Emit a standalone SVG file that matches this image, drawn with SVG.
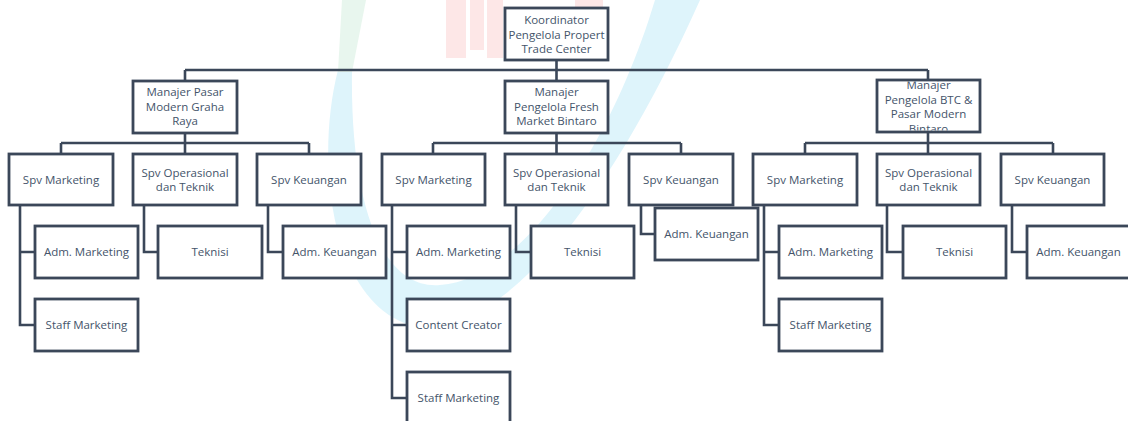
<svg xmlns="http://www.w3.org/2000/svg" width="1128" height="421" viewBox="0 0 1128 421">
<style>
.box{fill:#ffffff;stroke:#3b4759;stroke-width:2.8}
.ln{fill:none;stroke:#3b4759;stroke-width:2.6}
text{font-family:"Open Sans","Liberation Sans",sans-serif;font-size:11.5px;fill:#44546a;text-anchor:middle}
</style>
<defs>
<clipPath id="clipM3"><rect x="878.4" y="81.4" width="100.2" height="49.2"/></clipPath>
</defs>
<rect x="0" y="0" width="1128" height="421" fill="#ffffff"/>
<g id="watermark" opacity="0.8">
<path d="M338,70 C315,160 330,300 410,325 C500,345 610,200 700,0 L655,0 C610,150 520,280 440,285 C380,290 350,200 352,70 Z" fill="#d6f2fb"/>
<path d="M342,0 L366,0 L352,72 L338,72 Z" fill="#e3f5ea"/>
<rect x="446" y="0" width="20" height="58" fill="#fde2e2"/>
<rect x="470" y="0" width="14" height="50" fill="#fde2e2"/>
<rect x="487" y="0" width="16" height="58" fill="#fde2e2"/>
<rect x="575" y="0" width="28" height="58" fill="#fde2e2"/>
</g>
<g id="connectors">
<path class="ln" d="M556.5,60 V81 M185,70 H928 M185,70 V81 M928,70 V81"/>
<path class="ln" d="M185,133 V154 M61,143 H309 M61,143 V154 M309,143 V154"/>
<path class="ln" d="M556.5,133 V154 M433,143 H681 M433,143 V154 M681,143 V154"/>
<path class="ln" d="M928,133 V154 M805,143 H1053 M805,143 V154 M1053,143 V154"/>
<path class="ln" d="M20,205 V325 H35 M20,252 H35 M144,205 V252 H158 M268,205 V252 H283"/>
<path class="ln" d="M392,205 V398 H407 M392,252 H407 M392,325 H407 M516,205 V252 H531 M641,205 V234 H655"/>
<path class="ln" d="M764,205 V325 H779 M764,252 H779 M887,205 V252 H903 M1012,205 V252 H1027"/>
</g>
<g id="n-koordinator"><rect class="box" x="505" y="8" width="103" height="52"/>
<text x="556.5" y="24">Koordinator</text><text x="556.5" y="38.5">Pengelola Propert</text><text x="556.5" y="53">Trade Center</text></g>
<g id="n-m1"><rect class="box" x="133" y="81" width="104" height="52"/>
<text x="185" y="96">Manajer Pasar</text><text x="185" y="110.5">Modern Graha</text><text x="185" y="125">Raya</text></g>
<g id="n-m2"><rect class="box" x="505" y="81" width="103" height="52"/>
<text x="556.5" y="96">Manajer</text><text x="556.5" y="110.5">Pengelola Fresh</text><text x="556.5" y="125">Market Bintaro</text></g>
<g id="n-m3"><rect class="box" x="877" y="80" width="103" height="52"/>
<g clip-path="url(#clipM3)"><text x="928.5" y="89">Manajer</text><text x="928.5" y="103.5">Pengelola BTC &amp;</text><text x="928.5" y="118">Pasar Modern</text><text x="928.5" y="132.5">Bintaro</text></g></g>
<g id="n-g1-spvmkt"><rect class="box" x="9" y="154" width="104" height="51"/><text x="61" y="184">Spv Marketing</text></g>
<g id="n-g1-spvop"><rect class="box" x="133" y="154" width="104" height="51"/><text x="185" y="177">Spv Operasional</text><text x="185" y="191">dan Teknik</text></g>
<g id="n-g1-spvkeu"><rect class="box" x="257" y="154" width="104" height="51"/><text x="309" y="184">Spv Keuangan</text></g>
<g id="n-g2-spvmkt"><rect class="box" x="382" y="154" width="103" height="51"/><text x="433.5" y="184">Spv Marketing</text></g>
<g id="n-g2-spvop"><rect class="box" x="505" y="154" width="103" height="51"/><text x="556.5" y="177">Spv Operasional</text><text x="556.5" y="191">dan Teknik</text></g>
<g id="n-g2-spvkeu"><rect class="box" x="629" y="154" width="104" height="51"/><text x="681" y="184">Spv Keuangan</text></g>
<g id="n-g3-spvmkt"><rect class="box" x="753" y="154" width="104" height="51"/><text x="805" y="184">Spv Marketing</text></g>
<g id="n-g3-spvop"><rect class="box" x="877" y="154" width="103" height="51"/><text x="928.5" y="177">Spv Operasional</text><text x="928.5" y="191">dan Teknik</text></g>
<g id="n-g3-spvkeu"><rect class="box" x="1001" y="154" width="103" height="51"/><text x="1052.5" y="184">Spv Keuangan</text></g>
<g id="n-g1-admmkt"><rect class="box" x="35" y="226" width="103" height="52"/><text x="86.5" y="256">Adm. Marketing</text></g>
<g id="n-g1-staff"><rect class="box" x="35" y="299" width="103" height="52"/><text x="86.5" y="329">Staff Marketing</text></g>
<g id="n-g1-teknisi"><rect class="box" x="158" y="226" width="104" height="52"/><text x="210" y="256">Teknisi</text></g>
<g id="n-g1-admkeu"><rect class="box" x="283" y="226" width="103" height="52"/><text x="334.5" y="256">Adm. Keuangan</text></g>
<g id="n-g2-admmkt"><rect class="box" x="407" y="226" width="103" height="52"/><text x="458.5" y="256">Adm. Marketing</text></g>
<g id="n-g2-content"><rect class="box" x="407" y="299" width="103" height="52"/><text x="458.5" y="329">Content Creator</text></g>
<g id="n-g2-staff"><rect class="box" x="407" y="372" width="103" height="52"/><text x="458.5" y="402">Staff Marketing</text></g>
<g id="n-g2-teknisi"><rect class="box" x="531" y="226" width="103" height="52"/><text x="582.5" y="256">Teknisi</text></g>
<g id="n-g2-admkeu"><rect class="box" x="655" y="208" width="103" height="52"/><text x="706.5" y="238">Adm. Keuangan</text></g>
<g id="n-g3-admmkt"><rect class="box" x="779" y="226" width="103" height="52"/><text x="830.5" y="256">Adm. Marketing</text></g>
<g id="n-g3-staff"><rect class="box" x="779" y="299" width="103" height="52"/><text x="830.5" y="329">Staff Marketing</text></g>
<g id="n-g3-teknisi"><rect class="box" x="903" y="226" width="103" height="52"/><text x="954.5" y="256">Teknisi</text></g>
<g id="n-g3-admkeu"><rect class="box" x="1027" y="226" width="103" height="52"/><text x="1078.5" y="256">Adm. Keuangan</text></g>
</svg>
